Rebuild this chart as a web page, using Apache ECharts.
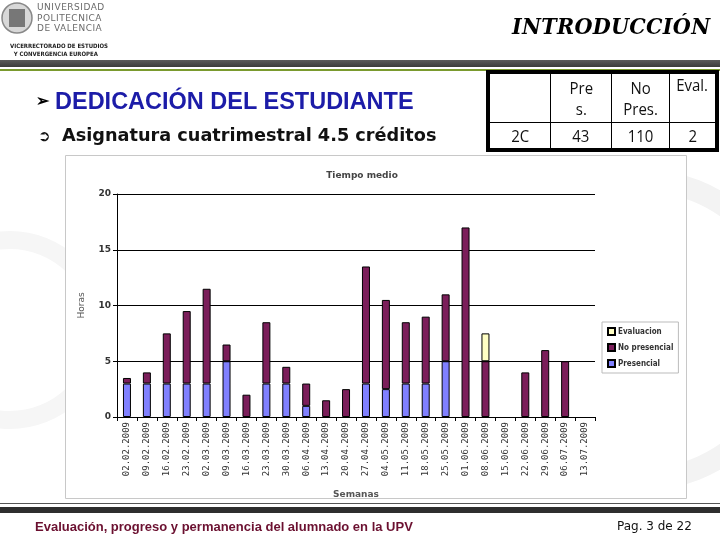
<!DOCTYPE html>
<html>
<head>
<meta charset="utf-8">
<script src="https://cdn.jsdelivr.net/npm/echarts@6/dist/echarts.min.js"></script>
<style>
  html, body { margin:0; padding:0; background:#fff; }
  #wrap { position:relative; width:720px; height:540px; overflow:hidden; background:#fff; }
  #chart { position:absolute; left:0; top:0; width:720px; height:540px; }
  .ov { position:absolute; pointer-events:none; white-space:nowrap; }
  table.t { border-collapse:collapse; font-family:"Liberation Sans Narrow","Open Sans",sans-serif; font-size:17px; color:#111; }
  table.t td { border:1px solid #000; text-align:center; padding:0; line-height:21px; }
  .n { display:inline-block; transform:scaleX(0.88); }
</style>
</head>
<body>
<div id="wrap">
  <div id="chart"></div>

  <!-- header -->
  <div class="ov" style="left:0;top:60px;width:720px;height:7px;background:linear-gradient(#5a5a5a,#3a3a3a);"></div>
  <div class="ov" style="left:0;top:69px;width:720px;height:2px;background:#7a9a2e;"></div>
  <div class="ov" style="left:37px;top:2px;font-family:'DejaVu Sans',sans-serif;font-size:9px;line-height:10.5px;color:#6a6a6a;letter-spacing:0.5px;">UNIVERSIDAD<br>POLITECNICA<br>DE VALENCIA</div>
  <div class="ov" style="left:10px;top:42px;font-family:'DejaVu Sans Condensed','DejaVu Sans',sans-serif;font-size:6px;line-height:8px;font-weight:bold;color:#222;">VICERRECTORADO DE ESTUDIOS<br>&nbsp;&nbsp;Y CONVERGENCIA EUROPEA</div>
  <div class="ov" style="left:512px;top:12px;font-family:'DejaVu Serif Condensed','DejaVu Serif',serif;font-style:italic;font-weight:bold;font-size:23px;color:#000;letter-spacing:0.3px;">INTRODUCCIÓN</div>

  <div class="ov" style="left:36px;top:91px;font-family:'Liberation Sans',Arial,sans-serif;font-weight:bold;font-size:16px;color:#000;">➢</div>
  <div class="ov" style="left:55px;top:88px;font-family:'Liberation Sans',Arial,sans-serif;font-weight:bold;font-size:23.5px;color:#1c1ca8;">DEDICACIÓN DEL ESTUDIANTE</div>
  <div class="ov" style="left:38px;top:127px;font-family:'DejaVu Sans',sans-serif;font-weight:bold;font-size:15px;color:#111;">➲</div>
  <div class="ov" style="left:62px;top:125px;font-family:'DejaVu Sans',Verdana,sans-serif;font-weight:bold;font-size:17.7px;color:#111;">Asignatura cuatrimestral 4.5 créditos</div>

  <!-- table -->
  <div class="ov" style="left:486px;top:70px;border:3px solid #000;background:#fff;">
    <table class="t">
      <tr style="height:49px;">
        <td style="width:60px;"></td>
        <td style="width:60px;"><span class="n">Pre<br>s.</span></td>
        <td style="width:57px;"><span class="n">No<br>Pres.</span></td>
        <td style="width:45px;vertical-align:top;"><span class="n">Eval.</span></td>
      </tr>
      <tr style="height:26px;">
        <td><span class="n" id="t0"></span></td><td><span class="n" id="t1"></span></td><td><span class="n" id="t2"></span></td><td><span class="n" id="t3"></span></td>
      </tr>
    </table>
  </div>

  <!-- footer -->
  <div class="ov" style="left:0;top:503px;width:720px;height:1px;background:#555;"></div>
  <div class="ov" style="left:0;top:507px;width:720px;height:6px;background:#2e2e2e;"></div>
  <div class="ov" style="left:35px;top:519px;font-family:'Liberation Sans',Arial,sans-serif;font-weight:bold;font-size:13px;color:#6b1030;">Evaluación, progreso y permanencia del alumnado en la UPV</div>
  <div class="ov" style="left:617px;top:519px;font-family:'DejaVu Sans',Verdana,sans-serif;font-size:12px;color:#111;">Pag. 3 de 22</div>
</div>

<script>
// ---- data ----
const weeks = ['02.02.2009','09.02.2009','16.02.2009','23.02.2009','02.03.2009','09.03.2009','16.03.2009','23.03.2009','30.03.2009','06.04.2009','13.04.2009','20.04.2009','27.04.2009','04.05.2009','11.05.2009','18.05.2009','25.05.2009','01.06.2009','08.06.2009','15.06.2009','22.06.2009','29.06.2009','06.07.2009','13.07.2009'];
const presencial   = [3, 3, 3, 3, 3, 5, null, 3, 3, 1, null, null, 3, 2.5, 3, 3, 5, null, null, null, null, null, null, null];
const noPresencial = [0.5, 1, 4.5, 6.5, 8.5, 1.5, 2, 5.5, 1.5, 2, 1.5, 2.5, 10.5, 8, 5.5, 6, 6, 17, 5, null, 4, 6, 5, null];
const evaluacion   = [null, null, null, null, null, null, null, null, null, null, null, null, null, null, null, null, null, null, 2.5, null, null, null, null, null];
const yTicks = [0, 5, 10, 15, 20];
const tableHead = ['', 'Pres.', 'No Pres.', 'Eval.'];
const tableRow = ['2C', '43', '110', '2'];

tableRow.forEach((v, i) => { document.getElementById('t' + i).textContent = v; });

const chart = echarts.init(document.getElementById('chart'), null, { renderer: 'canvas' });
const lab = { fontFamily: 'DejaVu Sans, sans-serif', fontSize: 9, fontWeight: 'bold', color: '#333' };
const border = { borderColor: '#000', borderWidth: 1 };

chart.setOption({
  animation: false,
  backgroundColor: 'transparent',
  graphic: [
    { type: 'circle', z: -10, shape: { cx: 640, cy: 330, r: 150 }, style: { fill: 'none', stroke: '#f3f3f3', lineWidth: 22 } },
    { type: 'circle', z: -10, shape: { cx: 10, cy: 330, r: 90 }, style: { fill: 'none', stroke: '#f6f6f6', lineWidth: 18 } },
    { type: 'circle', z: -10, shape: { cx: 17, cy: 18, r: 15 }, style: { fill: '#d8d8d8', stroke: '#888', lineWidth: 1.5 } },
    { type: 'rect', z: -10, shape: { x: 9, y: 9, width: 16, height: 18 }, style: { fill: '#777' } },
    { type: 'rect', z: -5, shape: { x: 65.5, y: 155.5, width: 621, height: 343 }, style: { fill: '#fff', stroke: '#c8c8c8', lineWidth: 1 } }
  ],
  title: {
    text: 'Tiempo medio', left: 357, top: 166, textAlign: 'center',
    textStyle: { fontFamily: 'DejaVu Sans, sans-serif', fontSize: 9, fontWeight: 'bold', color: '#444' }
  },
  legend: {
    orient: 'vertical', left: 602, top: 322,
    data: ['Evaluacion', 'No presencial', 'Presencial'],
    itemWidth: 7, itemHeight: 7, itemGap: 7,
    padding: [5, 5, 5, 5],
    borderColor: '#bbb', borderWidth: 1,
    textStyle: { fontFamily: 'DejaVu Sans Condensed, DejaVu Sans, sans-serif', fontSize: 8, fontWeight: 'bold', color: '#333', padding: [0, 0, 0, -2] },
    icon: 'rect'
  },
  grid: { left: 117, top: 194, width: 478, height: 223 },
  xAxis: {
    type: 'category', data: weeks,
    name: 'Semanas', nameLocation: 'middle', nameGap: 73,
    nameTextStyle: { fontFamily: 'DejaVu Sans, sans-serif', fontSize: 9, fontWeight: 'bold', color: '#555' },
    axisLine: { lineStyle: { color: '#000', width: 1 } },
    axisTick: { show: true, length: 4, lineStyle: { color: '#000' } },
    axisLabel: { rotate: 90, margin: 5, fontFamily: 'DejaVu Sans Mono, monospace', fontSize: 9, color: '#333', interval: 0 }
  },
  yAxis: {
    type: 'value', min: 0, max: 20, interval: 5,
    name: 'Horas', nameLocation: 'middle', nameGap: 31, nameRotate: 90,
    nameTextStyle: { fontFamily: 'DejaVu Sans, sans-serif', fontSize: 9, color: '#555' },
    axisLine: { show: true, lineStyle: { color: '#000', width: 1 } },
    axisTick: { show: true, length: 4, lineStyle: { color: '#000' } },
    axisLabel: Object.assign({}, lab, { margin: 6, formatter: v => yTicks.includes(v) ? String(v) : '' }),
    splitLine: { show: true, lineStyle: { color: '#000', width: 1 } }
  },
  series: [
    { name: 'Presencial', type: 'bar', stack: 't', barWidth: 8, data: presencial, itemStyle: Object.assign({ color: '#8080ff' }, border) },
    { name: 'No presencial', type: 'bar', stack: 't', barWidth: 8, data: noPresencial, itemStyle: Object.assign({ color: '#7b1e5a' }, border) },
    { name: 'Evaluacion', type: 'bar', stack: 't', barWidth: 8, data: evaluacion, itemStyle: Object.assign({ color: '#ffffc4' }, border) }
  ]
});
</script>
</body>
</html>
